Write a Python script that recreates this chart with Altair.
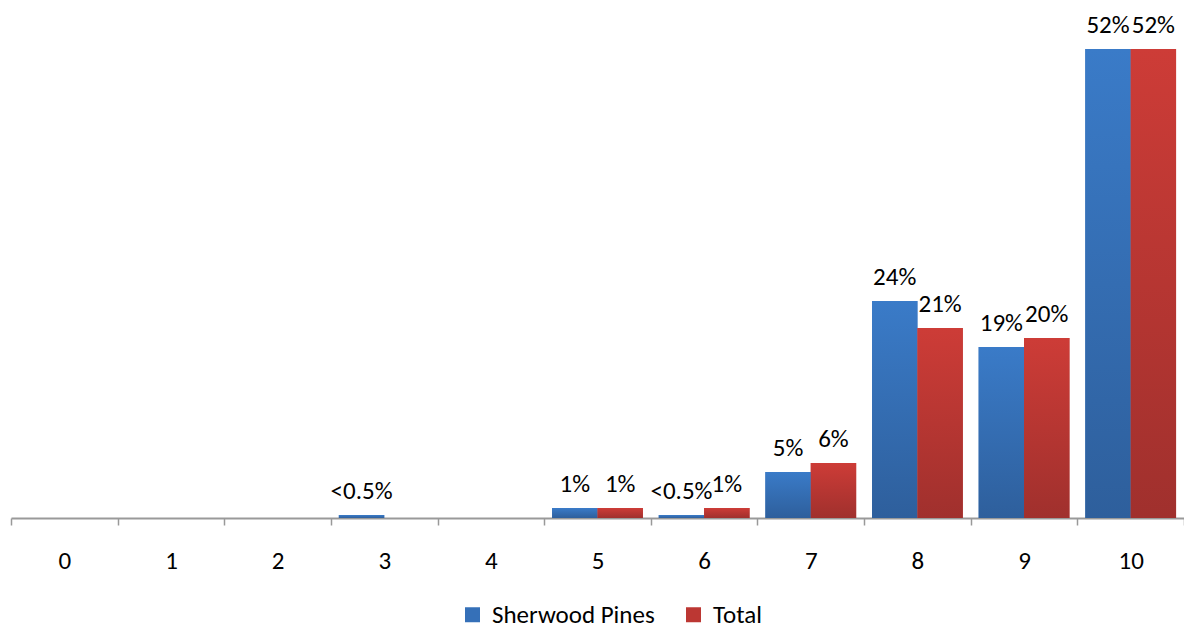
import altair as alt
import pandas as pd

categories = [str(i) for i in range(11)]
series = ["Sherwood Pines", "Total"]
sherwood = [0, 0, 0, 0.33, 0, 1.1, 0.33, 5.1, 24.05, 18.95, 52]
total = [0, 0, 0, 0, 0, 1.1, 1.1, 6.1, 21.05, 19.95, 52]
sherwood_labels = ["", "", "", "<0.5%", "", "1%", "<0.5%", "5%", "24%", "19%", "52%"]
total_labels = ["", "", "", "", "", "1%", "1%", "6%", "21%", "20%", "52%"]

rows = []
for c, v, l in zip(categories, sherwood, sherwood_labels):
    rows.append({"cat": c, "series": series[0], "value": v, "label": l})
for c, v, l in zip(categories, total, total_labels):
    rows.append({"cat": c, "series": series[1], "value": v, "label": l})
df = pd.DataFrame(rows)

FONT = "Carlito, Calibri, Lato, sans-serif"

x = alt.X(
    "cat:N",
    sort=categories,
    scale=alt.Scale(paddingInner=0, paddingOuter=0),
    axis=alt.Axis(
        title=None, labelAngle=0, tickBand="extent", labelFontSize=25,
        labelFont=FONT, labelColor="black", domainColor="#999999",
        tickColor="#999999", tickSize=7, labelPadding=23, domainWidth=2,
        tickWidth=1.5,
    ),
)
xo = alt.XOffset("series:N", scale=alt.Scale(domain=series, paddingOuter=0.175, paddingInner=0))
y = alt.Y("value:Q", scale=alt.Scale(domain=[0, 55.65]), axis=None)

base = alt.Chart(df)

legend_bars = base.mark_bar().encode(
    x=x, xOffset=xo, y=y,
    color=alt.Color(
        "series:N",
        scale=alt.Scale(domain=series, range=["#3570b8", "#bc3733"]),
        legend=alt.Legend(
            title=None, orient="none", legendX=449, legendY=586,
            direction="horizontal", symbolType="square", symbolSize=225,
            labelFontSize=25, labelFont=FONT, labelColor="black",
            columnPadding=26, labelOffset=7, symbolStrokeWidth=0,
            labelLimit=400,
        ),
    ),
)

def grad(top, bottom):
    return alt.Gradient(
        gradient="linear",
        stops=[alt.GradientStop(color=top, offset=0), alt.GradientStop(color=bottom, offset=1)],
        x1=0, x2=0, y1=0, y2=1,
    )

blue = base.transform_filter(alt.datum.series == series[0]).mark_bar(
    color=grad("#3a7bc8", "#2e5f9c")
).encode(x=x, xOffset=xo, y=y)
red = base.transform_filter(alt.datum.series == series[1]).mark_bar(
    color=grad("#cd3c37", "#a0302d")
).encode(x=x, xOffset=xo, y=y)

labels = base.mark_text(
    baseline="alphabetic", dy=-16, fontSize=25, font=FONT, color="black"
).encode(x=x, xOffset=xo, y=y, text="label:N")

chart = alt.layer(legend_bars, blue, red, labels).properties(
    width=1173, height=502,
    padding={"left": 3, "top": 8, "right": 0, "bottom": 112},
    autosize=alt.AutoSizeParams(type="none"),
).configure_view(stroke=None)

chart.save("out.html", embed_options={"renderer": "svg", "actions": False})
